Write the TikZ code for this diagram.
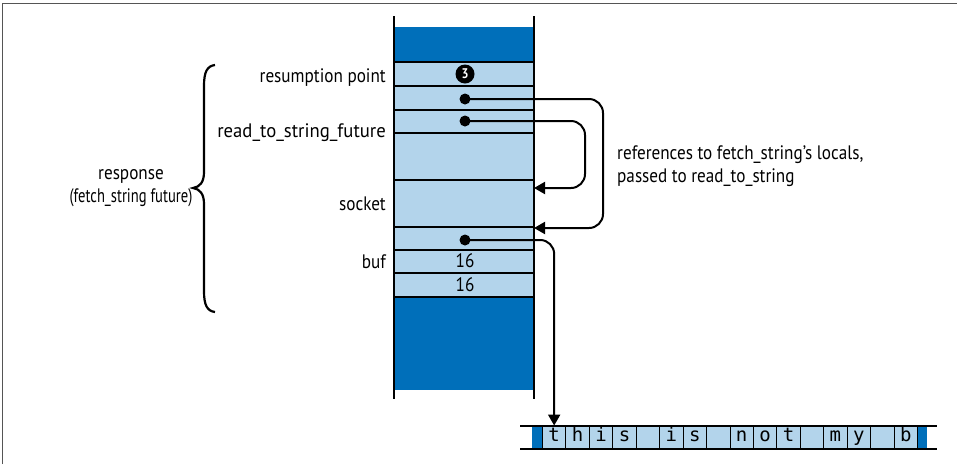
\documentclass[tikz,border=0pt]{standalone}
\usepackage{fontspec}
\usepackage{graphicx}
\setmainfont[FakeStretch=0.88]{PT Sans}
\newfontfamily\monofont{DejaVu Sans Mono}
\usetikzlibrary{arrows.meta}
\definecolor{lightb}{HTML}{B3D4EB}
\definecolor{darkb}{HTML}{006FBA}
\definecolor{framegray}{HTML}{555555}
\begin{document}
\begin{tikzpicture}[x=1pt,y=-1pt,
  lbl/.style={font=\fontsize{19.5}{23}\selectfont, inner sep=0pt},
  dot/.style={circle, fill=black, inner sep=0pt, minimum size=11pt},
  conn/.style={line width=2pt, rounded corners=14pt, -{Triangle[length=11pt,width=12pt]}},
  rowline/.style={line width=1.5pt},
  cell/.style={draw, line width=0.9pt, fill=lightb, minimum width=23.44pt, minimum height=23pt, inner sep=0pt, font=\monofont\fontsize{19}{21}\selectfont, anchor=west}
]
\useasboundingbox (0,0) rectangle (957,464);
% frame
\draw[framegray, line width=1pt] (2,464) -- (2,3) -- (957,3);
% column
\fill[darkb] (394,27) rectangle (534,62);
\fill[lightb] (394,62) rectangle (534,297);
\fill[darkb] (394,297) rectangle (534,390);
\foreach \y in {62,86,110,133,180,227,250,273,297}
  \draw[rowline] (394,\y) -- (534,\y);
\draw[line width=2pt] (394,16) -- (394,399);
\draw[line width=2pt] (534,16) -- (534,399);
% row labels
\node[lbl, anchor=base east] (lres) at (386,82) {resumption point};
\node[lbl, anchor=base east] (lread) at (386,137) {\scalebox{1.09}[1]{read\_to\_string\_future}};
\node[lbl, anchor=base east] (lsock) at (386,210) {socket};
\node[lbl, anchor=base east] (lbuf) at (386,268) {buf};
% contents
\node[circle, fill=black, inner sep=0pt, minimum size=19pt, text=white, font=\bfseries\fontsize{14}{15}\selectfont] (three) at (465,74) {3};
\node[dot] (d1) at (465,99) {};
\node[dot] (d2) at (465,121) {};
\node[dot] (d3) at (465,240) {};
\node[lbl] (n1) at (465,261) {16};
\node[lbl] (n2) at (465,285) {16};
\coordinate (t1) at (534,228);
\coordinate (t2) at (534,188);
% brace
\draw[line width=2.2pt] (215,65) .. controls (207,66) and (204,72) .. (204,86) -- (204,172)
  .. controls (204,182) and (200,187) .. (193,188)
  .. controls (200,189) and (204,194) .. (204,204) -- (204,291)
  .. controls (204,305) and (207,311) .. (215,312);
\node[lbl, align=center] (resp) at (131,188) {response\\\scalebox{0.85}[1]{(fetch\_string future)}};
% note
\node[lbl, align=left, anchor=west] (note) at (617,166) {references to fetch\_string's locals,\\passed to read\_to\_string};
% strip
\fill[darkb] (532,426) rectangle (542,449);
\fill[darkb] (917,426) rectangle (927,449);
\foreach \ch [count=\i] in {t,h,i,s,{},i,s,{},n,o,t,{},m,y,{},b}
  \node[cell] (c\i) at ({542+(\i-1)*23.44},437.5) {\ch\strut};
\draw[line width=1.5pt] (520,426) -- (937,426);
\draw[line width=1.5pt] (520,449) -- (937,449);
% connectors
\draw[conn] (d1.center) -- ++(138,0) |- (t1);
\draw[conn] (d2.center) -- ++(120,0) |- (t2);
\draw[conn] (d3.center) -| (c1.north);
\end{tikzpicture}
\end{document}
